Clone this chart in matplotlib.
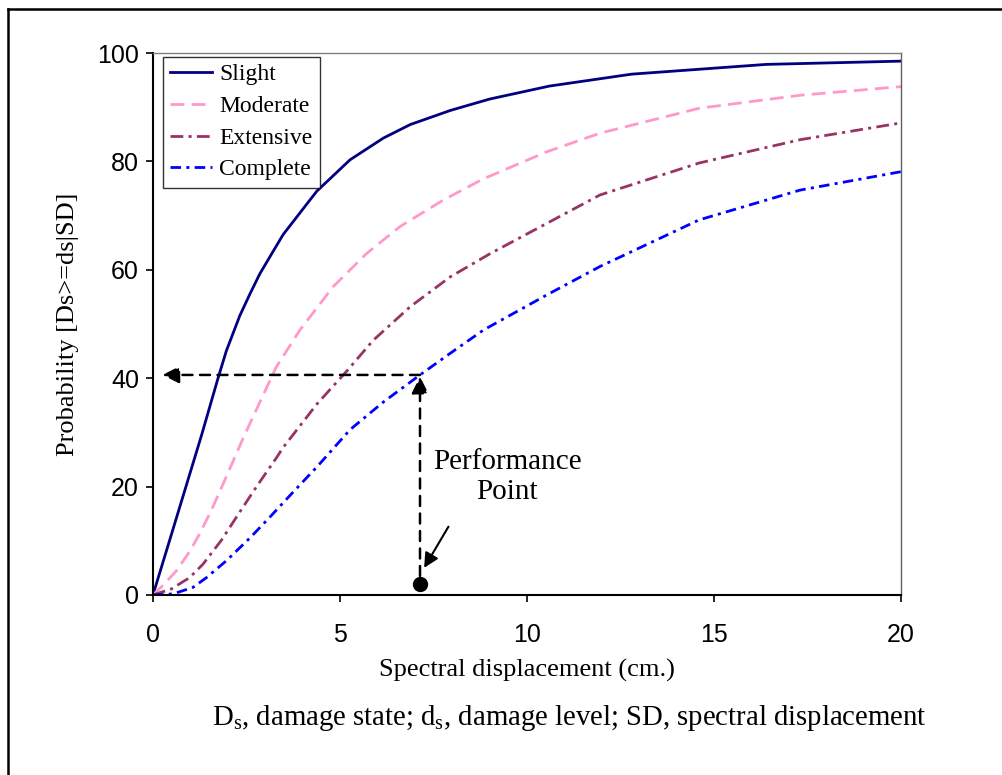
import matplotlib
matplotlib.use("Agg")
import matplotlib.pyplot as plt
from matplotlib.lines import Line2D

plt.rcParams["mathtext.fontset"] = "custom"
plt.rcParams["mathtext.rm"] = "Liberation Serif"
plt.rcParams["mathtext.it"] = "Liberation Serif:italic"

# fragility curves: spectral displacement (cm) vs probability (%)
slight_sd = [0, 0.42, 0.86, 1.30, 1.74, 1.96, 2.32, 2.59, 2.86, 3.48,
             4.38, 5.27, 6.16, 6.88, 7.95, 9.0, 10.6, 12.8, 16.4, 20]
slight_p = [0, 9.5, 19.5, 29.5, 40.0, 45.0, 51.5, 55.5, 59.3, 66.5,
            74.5, 80.3, 84.3, 86.8, 89.4, 91.5, 93.9, 96.1, 97.9, 98.5]

moderate_sd = [0, 0.3, 0.63, 0.98, 1.25, 1.56, 1.96, 2.37, 2.59, 3.30, 3.93, 4.82,
               5.71, 6.61, 7.77, 8.84, 10.54, 11.95, 14.6, 17.3, 20]
moderate_p = [0, 2.0, 4.5, 8.0, 11.3, 15.6, 21.8, 28.3, 31.6, 42.1, 48.9, 56.9,
              63.0, 68.0, 72.9, 76.8, 81.8, 85.2, 89.8, 92.2, 93.8]

extensive_sd = [0, 0.49, 0.98, 1.34, 1.83, 2.32, 2.77, 3.30, 3.48, 4.38, 5.18, 5.89,
                6.88, 7.95, 9.02, 10.54, 11.95, 14.6, 17.3, 20]
extensive_p = [0, 1.1, 3.2, 5.7, 10.1, 15.3, 20.0, 25.3, 27.2, 35.2, 41.3, 47.0,
               53.2, 58.7, 63.0, 68.6, 73.8, 79.7, 84.0, 87.1]

complete_sd = [0, 0.54, 1.07, 1.43, 1.96, 2.59, 3.13, 3.48, 3.75, 4.38, 5.27, 6.16,
               7.14, 7.95, 8.84, 10.54, 11.95, 14.6, 17.3, 20]
complete_p = [0, 0.2, 1.4, 3.2, 6.3, 10.5, 14.4, 17.0, 19.0, 23.6, 30.5, 35.6,
              40.6, 44.6, 48.9, 55.4, 60.6, 69.2, 74.7, 78.1]

perf_sd = 7.14
perf_p = 40.6

fig = plt.figure(figsize=(10.03, 7.75), dpi=100)
ax = fig.add_axes([0.1525, 0.2323, 0.7458, 0.6993])

ax.plot(slight_sd, slight_p, color="#000080", lw=2.0, label="Slight")
ax.plot(moderate_sd, moderate_p, color="#FF99CC", lw=2.0,
        linestyle=(0, (5, 2.6)), label="Moderate")
ax.plot(extensive_sd, extensive_p, color="#993366", lw=2.0,
        linestyle=(0, (4.6, 1.9, 1.1, 1.9)), label="Extensive")
ax.plot(complete_sd, complete_p, color="#0000FF", lw=2.0,
        linestyle=(0, (3.8, 1.9, 1.1, 1.9)), label="Complete")

# performance point and read-off arrows
ax.plot([perf_sd], [2], "o", color="black", ms=10, zorder=5)
ax.annotate("", xy=(perf_sd, perf_p - 0.3), xytext=(perf_sd, 3.5),
            arrowprops=dict(arrowstyle="-|>", color="black", lw=1.8,
                            linestyle=(0, (4, 3)), mutation_scale=25,
                            shrinkA=0, shrinkB=0))
ax.annotate("", xy=(0.25, perf_p), xytext=(perf_sd, perf_p),
            arrowprops=dict(arrowstyle="-|>", color="black", lw=1.8,
                            linestyle=(0, (4, 3)), mutation_scale=25,
                            shrinkA=0, shrinkB=0))
ax.annotate("", xy=(7.25, 5.0), xytext=(7.9, 12.6),
            arrowprops=dict(arrowstyle="-|>", color="black", lw=1.5,
                            mutation_scale=22, shrinkA=0, shrinkB=0))
ax.text(9.47, 21.8, "Performance\nPoint", ha="center", va="center",
        family="Liberation Serif", fontsize=21, linespacing=1.2)

ax.set_xlim(0, 20)
ax.set_ylim(0, 100)
ax.set_xticks([0, 5, 10, 15, 20])
ax.set_yticks([0, 20, 40, 60, 80, 100])
ax.tick_params(direction="out", length=5, width=1.2, labelsize=18)
ax.tick_params(axis="x", pad=15)
ax.tick_params(axis="y", pad=5)
for lab in ax.get_xticklabels() + ax.get_yticklabels():
    lab.set_family("Liberation Sans")
ax.spines["left"].set_linewidth(1.5)
ax.spines["bottom"].set_linewidth(1.5)
ax.spines["top"].set_color("#808080")
ax.spines["right"].set_color("#606060")
ax.spines["top"].set_linewidth(1.0)
ax.spines["right"].set_linewidth(1.0)

ax.set_xlabel("Spectral displacement (cm.)", family="Liberation Serif",
              fontsize=19, labelpad=9)
ax.set_ylabel("Probability [Ds>=ds|SD]", family="Liberation Serif",
              fontsize=19, labelpad=13)

leg = ax.legend(loc="upper left", bbox_to_anchor=(0.013, 0.993),
                prop={"family": "Liberation Serif", "size": 17},
                frameon=True, fancybox=False, edgecolor="black",
                handlelength=1.8, handletextpad=0.3, borderpad=0.3,
                labelspacing=0.43, borderaxespad=0)
leg.get_frame().set_linewidth(1.0)

fig.text(0.568, 0.0735,
         r"D$_\mathrm{s}$, damage state; d$_\mathrm{s}$, damage level; SD, spectral displacement",
         ha="center", va="center", family="Liberation Serif", fontsize=20.7)

# outer frame (left and top edges)
fig.add_artist(Line2D([0.008, 0.008], [0, 0.989], color="black", lw=1.8,
                      transform=fig.transFigure))
fig.add_artist(Line2D([0.008, 1.0], [0.989, 0.989], color="black", lw=1.8,
                      transform=fig.transFigure))

fig.savefig("out.png", dpi=100)
